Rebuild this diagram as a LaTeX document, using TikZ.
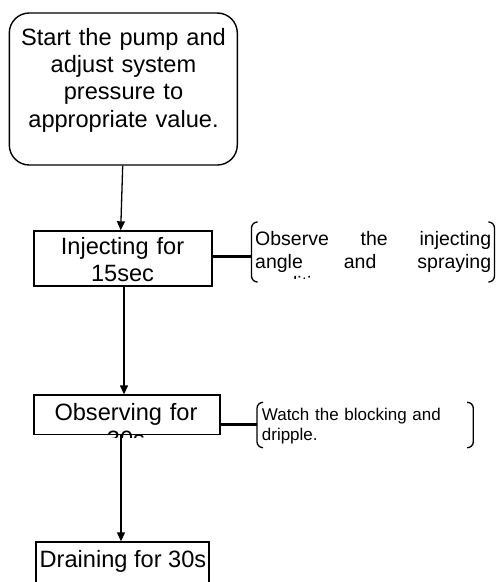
\documentclass[tikz,border=0pt]{standalone}
\usepackage{fontspec}
\setmainfont{Liberation Sans}
\usetikzlibrary{arrows.meta}
\begin{document}
\begin{tikzpicture}[x=1pt,y=-1pt,
  box/.style={draw,line width=1.4pt,inner sep=0pt,anchor=center},
  big/.style={font=\fontsize{23.6}{27.4}\selectfont,inner sep=0pt,align=center,anchor=base},
  note/.style={inner sep=0pt,align=left,anchor=base west},
  arr/.style={line width=1.3pt,-{Triangle[length=9pt,width=8pt]}},
  link/.style={line width=2.5pt},
  brk/.style={line width=1.3pt,rounded corners=6pt}]
\useasboundingbox (0,0) rectangle (499,582);
\clip (0,0) rectangle (499,582);
% boxes
\node[box,rounded corners=20pt,minimum width=228pt,minimum height=152pt] (start) at (123.3,89) {};
\node[big,text width=225pt] (starttxt) at (123.5,45) {Start the pump and\\adjust system\\pressure to\\appropriate value.};
\node[box,minimum width=178pt,minimum height=55pt] (inj) at (123,258.5) {};
\node[big,text width=178pt] (injtxt) at (122.5,254) {Injecting for\\15sec};
\node[box,minimum width=186pt,minimum height=39.3pt] (obs) at (127,414.7) {};
\begin{scope}
  \clip (30,390) rectangle (224,437.5);
  \node[big,text width=186pt] (obstxt) at (126,420) {Observing for\\30s};
\end{scope}
\node[box,minimum width=173pt,minimum height=60pt] (drain) at (122.5,572) {};
\node[big] (draintxt) at (123,567.3) {Draining for 30s};
% brackets
\coordinate (b1l) at (251.5,256.5);
\coordinate (b2l) at (257,424.3);
\draw[brk] (257,222) -- (251.5,222) -- (251.5,282) -- (257,282);
\draw[brk] (489,222) -- (494.5,222) -- (494.5,282) -- (489,282);
\draw[brk] (263,402.3) -- (257,402.3) -- (257,447.7) -- (263,447.7);
\draw[brk] (467,402.3) -- (473.3,402.3) -- (473.3,447.7) -- (467,447.7);
\begin{scope}
  \clip (240,215) rectangle (499,278);
  \node[note,font=\fontsize{19.5}{22.5}\selectfont,text width=236pt] (obsvtxt) at (255,245.5)
    {\leavevmode\hbox to 236pt{Observe\hfill the\hfill injecting}\\\leavevmode\hbox to 236pt{angle\hfill and\hfill spraying}\\condition.};
\end{scope}
\node[note,font=\fontsize{17}{19.5}\selectfont,text width=200pt] (watchtxt) at (261.7,420.5)
  {Watch the blocking and\\dripple.};
% connectors
\draw[link] (b1l -| inj.east) -- (b1l);
\draw[link] (b2l -| obs.east) -- (b2l);
\draw[arr] ([xshift=-0.6pt]start.south) -- ([xshift=-2.3pt]inj.north);
\draw[arr] ([xshift=1pt]inj.south) -- ([xshift=-3pt]obs.north);
\draw[arr] ([xshift=-6pt]obs.south) -- ([xshift=-1.5pt]drain.north);
\end{tikzpicture}
\end{document}
